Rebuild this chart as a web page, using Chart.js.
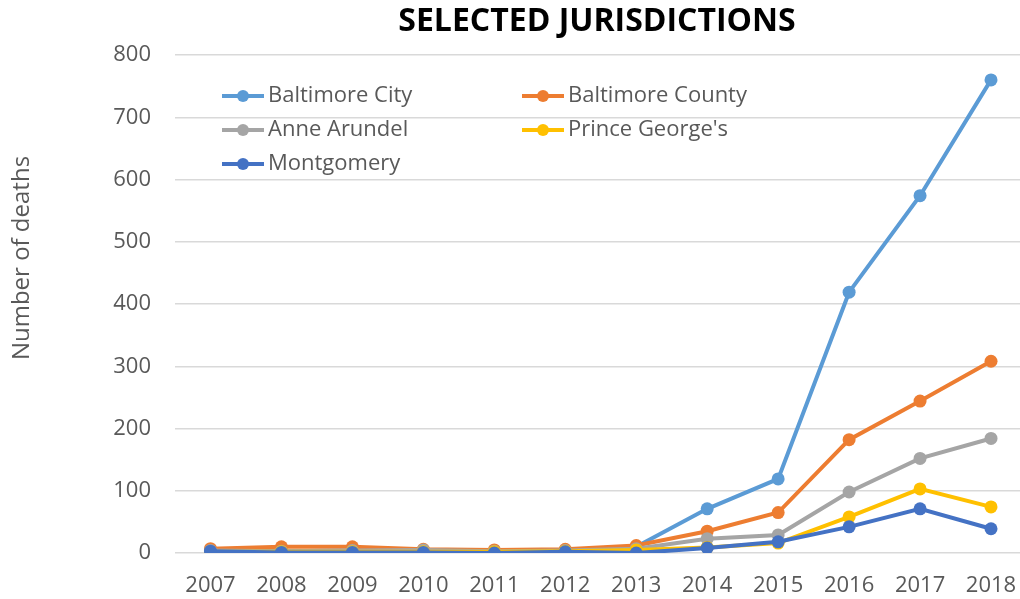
<!DOCTYPE html>
<html><head><meta charset="utf-8">
<script src="https://cdn.jsdelivr.net/npm/chart.js@4"></script>
<style>html,body{margin:0;padding:0;background:#fff;overflow:hidden;width:1020px;height:599px}#wrap{width:1033px;height:599px;position:relative}</style>
</head><body><div id="wrap"><canvas id="c" width="1033" height="599" style="width:1033px;height:599px"></canvas></div>
<script>
const years = ['2007','2008','2009','2010','2011','2012','2013','2014','2015','2016','2017','2018'];
const baltimoreCity = [5, 3, 4, 3, 2, 4, 10, 71, 119, 419, 574, 760];
const baltimoreCounty = [7, 10, 10, 6, 5, 6, 12, 35, 65, 182, 244, 308];
const anneArundel = [4, 3, 4, 5, 3, 4, 7, 23, 29, 98, 152, 184];
const princeGeorges = [2, 2, 2, 2, 2, 3, 5, 9, 16, 58, 103, 74];
const montgomery = [3, 1, 1, 1, 0, 2, 0, 8, 18, 42, 71, 39];
const seriesNames = ['Baltimore City','Baltimore County','Anne Arundel',"Prince George's",'Montgomery'];
const seriesColors = ['#5B9BD5','#ED7D31','#A5A5A5','#FFC000','#4472C4'];
const yTicks = [0,100,200,300,400,500,600,700,800];
const titleText = 'SELECTED JURISDICTIONS';
const yTitle = 'Number of deaths';

const values = [baltimoreCity, baltimoreCounty, anneArundel, princeGeorges, montgomery];
const datasets = values.map((v,i)=>({
  label: seriesNames[i], data: v,
  borderColor: seriesColors[i], backgroundColor: seriesColors[i],
  borderWidth: 4, pointRadius: 6.5, pointHoverRadius: 6.5, pointBorderWidth: 0,
  tension: 0, order: 5 - i
}));

const legendPlugin = {
  id: 'customLegend',
  afterDatasetsDraw(chart){
    const ctx = chart.ctx;
    ctx.save();
    ctx.font = '22px "Open Sans", sans-serif';
    ctx.textBaseline = 'middle';
    chart.data.datasets.forEach((ds,i)=>{
      const col = i % 2, row = Math.floor(i/2);
      const x = 222 + col*300, y = 96 + row*34;
      ctx.strokeStyle = ds.borderColor; ctx.lineWidth = 4;
      ctx.beginPath(); ctx.moveTo(x, y); ctx.lineTo(x+42, y); ctx.stroke();
      ctx.fillStyle = ds.borderColor;
      ctx.beginPath(); ctx.arc(x+21, y, 6, 0, Math.PI*2); ctx.fill();
      ctx.fillStyle = '#595959';
      ctx.textAlign = 'left';
      ctx.fillText(ds.label, x+46, y);
    });
    ctx.restore();
  }
};
const titlePlugin = {
  id: 'customTitles',
  afterDraw(chart){
    const ctx = chart.ctx;
    ctx.save();
    ctx.fillStyle = '#000';
    ctx.font = 'bold 32px "Open Sans", sans-serif';
    ctx.textAlign = 'center'; ctx.textBaseline = 'middle';
    ctx.fillText(titleText, 597, 22);
    ctx.translate(22, 258);
    ctx.rotate(-Math.PI/2);
    ctx.font = '24px "Open Sans", sans-serif';
    ctx.fillStyle = '#595959';
    ctx.fillText(yTitle, 0, 0);
    ctx.restore();
  }
};

new Chart(document.getElementById('c'), {
  type: 'line',
  data: { labels: years, datasets },
  options: {
    responsive: false, maintainAspectRatio: false, animation: false,
    layout: { padding: { top: 55, left: 0, right: 0, bottom: 1 } },
    plugins: { legend: { display: false }, title: { display: false }, tooltip: { enabled: false } },
    scales: {
      x: {
        offset: true,
        grid: { display: false },
        border: { display: false },
        ticks: { color: '#595959', font: { size: 22, family: '"Open Sans", sans-serif' }, padding: 12, maxRotation: 0 },
        afterFit(s){ s.height = 45; }
      },
      y: {
        min: 0, max: 800,
        afterBuildTicks(s){ s.ticks = yTicks.map(v=>({value:v})); },
        afterFit(s){ s.width = 175; },
        grid: { color: '#D9D9D9', lineWidth: 1.5, drawTicks: false },
        border: { display: false },
        ticks: { color: '#595959', font: { size: 22, family: '"Open Sans", sans-serif' }, padding: 24 }
      }
    }
  },
  plugins: [legendPlugin, titlePlugin]
});
</script></body></html>
